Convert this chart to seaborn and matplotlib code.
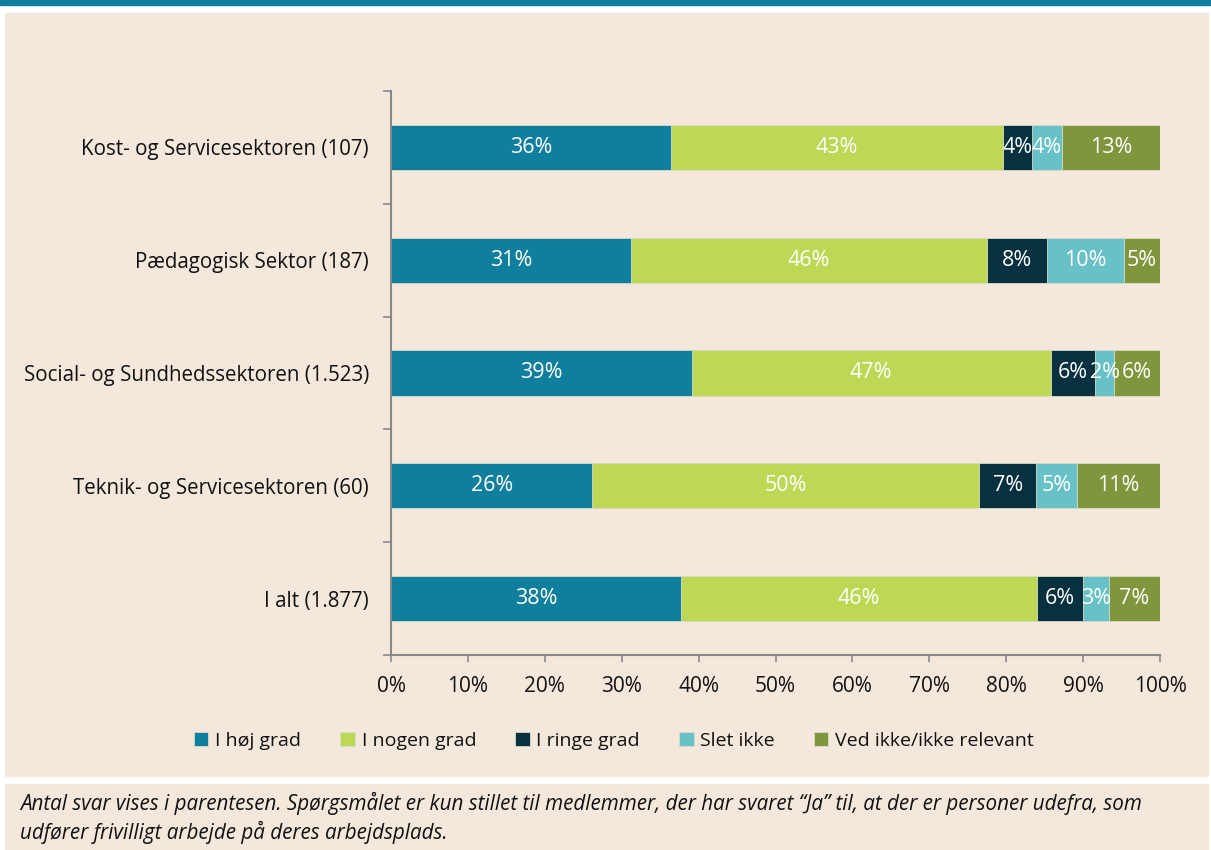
import numpy as np
import pandas as pd
import matplotlib
matplotlib.use("Agg")
import matplotlib.pyplot as plt
from matplotlib.patches import Rectangle
import seaborn as sns

# data (percent of answers)
categories = [
    "Kost- og Servicesektoren (107)",
    "Pædagogisk Sektor (187)",
    "Social- og Sundhedssektoren (1.523)",
    "Teknik- og Servicesektoren (60)",
    "I alt (1.877)",
]
series = ["I høj grad", "I nogen grad", "I ringe grad", "Slet ikke", "Ved ikke/ikke relevant"]
hoj_grad = [36.4, 31.2, 39.1, 26.2, 37.7]
nogen_grad = [43.2, 46.3, 46.7, 50.3, 46.3]
ringe_grad = [3.7, 7.8, 5.8, 7.4, 6.0]
slet_ikke = [4.0, 10.0, 2.4, 5.3, 3.4]
ved_ikke = [12.7, 4.7, 6.0, 10.8, 6.6]
colors = ["#107f9d", "#bed755", "#07313f", "#67c1c6", "#80963d"]
note = ("Antal svar vises i parentesen. Spørgsmålet er kun stillet til medlemmer, der har svaret \u201cJa\u201d til, at der er personer udefra, som\n"
        "udfører frivilligt arbejde på deres arbejdsplads.")

bg = "#f4e8dc"
W, H = 1211, 850

df = pd.DataFrame(
    {"kategori": categories, series[0]: hoj_grad, series[1]: nogen_grad,
     series[2]: ringe_grad, series[3]: slet_ikke, series[4]: ved_ikke}
)
cum = df[series].cumsum(axis=1)

sns.set_style("white")
plt.rcParams["font.family"] = ["Open Sans", "DejaVu Sans"]

fig = plt.figure(figsize=(W / 100, H / 100), dpi=100, facecolor="white")

# panels in the background
fig.patches.append(Rectangle((0, 1 - 5 / H), 1, 5 / H, transform=fig.transFigure,
                             color="#0f7d9c", zorder=-10))
fig.patches.append(Rectangle((5 / W, 1 - 776 / H), 1203 / W, 763 / H, transform=fig.transFigure,
                             color=bg, zorder=-10))
fig.patches.append(Rectangle((5 / W, 0), 1203 / W, 66 / H, transform=fig.transFigure,
                             color=bg, zorder=-10))

ax = fig.add_axes([391 / W, 1 - 655 / H, (1160 - 391) / W, (655 - 91) / H])
ax.set_facecolor(bg)

# stacked bars: draw cumulative totals from the outermost inwards
for i in reversed(range(len(series))):
    sns.barplot(x=cum[series[i]], y=df["kategori"], color=colors[i], label=series[i],
                orient="h", width=0.4, saturation=1, edgecolor="#d9dcc8", linewidth=0.6, ax=ax)

# white value labels in the middle of each segment
for i, s in enumerate(series):
    left = cum[s] - df[s]
    for j, v in enumerate(df[s]):
        ax.text(left[j] + v / 2, j, f"{round(v)}%", ha="center", va="center",
                color="white", fontsize=15.5)

ax.set_xlim(0, 100)
ax.set_ylim(4.5, -0.5)
ax.set_xticks(np.arange(0, 101, 10))
ax.set_xticklabels([f"{t}%" for t in range(0, 101, 10)], fontsize=15, color="#111111")
ax.set_yticks(range(len(categories)))
ax.set_yticklabels(categories, fontsize=14.8, color="#111111")
ax.set_yticks(np.arange(-0.5, 5, 1), minor=True)
ax.tick_params(axis="y", which="major", length=0, pad=16)
ax.tick_params(axis="y", which="minor", length=6, width=1.2, color="#888888", direction="out", left=True)
ax.tick_params(axis="x", which="major", length=5, width=1.2, color="#888888", direction="out", pad=10, bottom=True)
ax.set_xlabel("")
ax.set_ylabel("")
sns.despine(ax=ax, top=True, right=True)
for sp in ["left", "bottom"]:
    ax.spines[sp].set_color("#888888")
    ax.spines[sp].set_linewidth(1.5)

handles, labels = ax.get_legend_handles_labels()
order = [labels.index(s) for s in series]
fig.legend([handles[k] for k in order], series, loc="center", bbox_to_anchor=(0.507, 1 - 741 / H),
           ncol=5, frameon=False, fontsize=14, handlelength=0.75, handleheight=0.75,
           handletextpad=0.35, columnspacing=2.0, labelcolor="#111111")
if ax.get_legend() is not None:
    ax.get_legend().remove()

fig.text(20 / W, 1 - 818 / H, note, fontsize=14.9, style="italic", color="#111111",
         va="center", ha="left", linespacing=1.3)

fig.savefig("out.png", dpi=100, facecolor=fig.get_facecolor())
